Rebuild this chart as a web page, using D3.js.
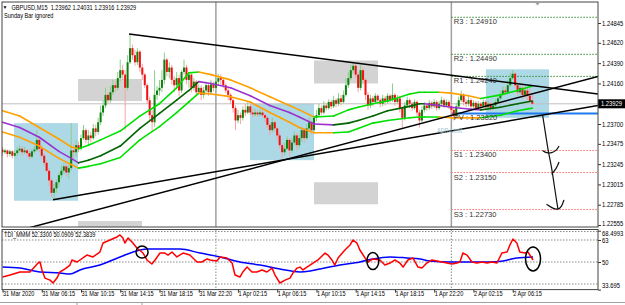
<!DOCTYPE html>
<html>
<head>
<meta charset="utf-8">
<script src="https://cdn.jsdelivr.net/npm/d3@7"></script>
<style>
    body { margin: 0; background: #fff; }
    svg { display: block; font-family: "Liberation Sans", Arial, sans-serif; }
</style>
</head>
<body>
<div id="chart"></div>
<script>
// GBPUSD M15, one entry per bar from 31 Mar 02:15 to 2 Apr 08:15
const firstOpen = 1.2341;
const closes = [
    1.2338,1.2340,1.2336,1.2339,1.2334,1.2337,1.2340,1.2342,1.2338,1.2340,
    1.2337,1.2333,1.2339,1.2341,1.2352,1.2342,1.2334,1.2326,1.2317,1.2306,
    1.2292,1.2297,1.2304,1.2312,1.2317,1.2322,1.2315,1.2320,1.2340,1.2338,
    1.2346,1.2342,1.2354,1.2363,1.2352,1.2357,1.2354,1.2365,1.2361,1.2372,
    1.2383,1.2391,1.2403,1.2397,1.2406,1.2414,1.2411,1.2422,1.2431,1.2426,
    1.2411,1.2440,1.2456,1.2448,1.2440,1.2452,1.2434,1.2426,1.2414,1.2397,
    1.2380,1.2372,1.2403,1.2408,1.2411,1.2420,1.2443,1.2429,1.2434,1.2420,
    1.2414,1.2422,1.2408,1.2429,1.2434,1.2420,1.2426,1.2411,1.2418,1.2406,
    1.2411,1.2403,1.2408,1.2414,1.2406,1.2415,1.2411,1.2418,1.2422,1.2420,
    1.2414,1.2408,1.2403,1.2397,1.2388,1.2374,1.2380,1.2377,1.2386,1.2383,
    1.2390,1.2383,1.2381,1.2383,1.2381,1.2383,1.2380,1.2377,1.2369,1.2363,
    1.2372,1.2365,1.2357,1.2346,1.2338,1.2342,1.2352,1.2340,1.2349,1.2357,
    1.2346,1.2354,1.2363,1.2354,1.2365,1.2372,1.2363,1.2377,1.2380,1.2388,
    1.2383,1.2391,1.2388,1.2395,1.2390,1.2397,1.2393,1.2399,1.2395,1.2403,
    1.2414,1.2422,1.2431,1.2436,1.2426,1.2411,1.2431,1.2420,1.2403,1.2391,
    1.2399,1.2395,1.2402,1.2397,1.2393,1.2399,1.2395,1.2402,1.2397,1.2403,
    1.2395,1.2399,1.2388,1.2377,1.2391,1.2397,1.2393,1.2388,1.2395,1.2383,
    1.2374,1.2386,1.2391,1.2388,1.2394,1.2390,1.2395,1.2388,1.2393,1.2397,
    1.2391,1.2395,1.2390,1.2386,1.2379,1.2390,1.2397,1.2403,1.2395,1.2393,
    1.2397,1.2390,1.2394,1.2388,1.2393,1.2390,1.2395,1.2389,1.2393,1.2388,
    1.2391,1.2395,1.2399,1.2404,1.2408,1.2406,1.2414,1.2422,1.2427,1.2414,
    1.2406,1.2411,1.2403,1.2408,1.2402,1.23962,1.23929
];
const highs = [
    1.2344,1.2342,1.2341,1.2341,1.2340,1.2340,1.2344,1.2346,1.2345,1.2344,
    1.2342,1.2340,1.2342,1.2345,1.2363,1.2356,1.2346,1.2337,1.2329,1.2320,
    1.2308,1.2302,1.2307,1.2315,1.2323,1.2326,1.2325,1.2324,1.2371,1.2347,
    1.2352,1.2350,1.2358,1.2369,1.2365,1.2363,1.2361,1.2370,1.2369,1.2377,
    1.2391,1.2397,1.2411,1.2406,1.2413,1.2420,1.2419,1.2429,1.2443,1.2437,
    1.2431,1.2448,1.2472,1.2460,1.2454,1.2456,1.2454,1.2438,1.2428,1.2416,
    1.2401,1.2386,1.2431,1.2413,1.2420,1.2431,1.2451,1.2445,1.2440,1.2437,
    1.2424,1.2429,1.2426,1.2431,1.2443,1.2437,1.2429,1.2427,1.2422,1.2420,
    1.2415,1.2414,1.2412,1.2418,1.2416,1.2420,1.2418,1.2422,1.2427,1.2426,
    1.2423,1.2416,1.2411,1.2405,1.2399,1.2391,1.2386,1.2383,1.2390,1.2393,
    1.2395,1.2393,1.2387,1.2387,1.2386,1.2387,1.2386,1.2382,1.2379,1.2372,
    1.2377,1.2374,1.2367,1.2360,1.2348,1.2349,1.2356,1.2354,1.2354,1.2362,
    1.2360,1.2358,1.2367,1.2365,1.2370,1.2378,1.2374,1.2380,1.2386,1.2393,
    1.2391,1.2396,1.2394,1.2398,1.2397,1.2402,1.2399,1.2405,1.2403,1.2408,
    1.2422,1.2429,1.2437,1.2440,1.2438,1.2429,1.2437,1.2434,1.2422,1.2406,
    1.2403,1.2402,1.2405,1.2404,1.2399,1.2403,1.2402,1.2405,1.2404,1.2416,
    1.2405,1.2403,1.2402,1.2390,1.2395,1.2401,1.2399,1.2395,1.2398,1.2397,
    1.2386,1.2390,1.2395,1.2394,1.2397,1.2396,1.2398,1.2397,1.2396,1.2401,
    1.2399,1.2398,1.2397,1.2393,1.2388,1.2394,1.2401,1.2408,1.2405,1.2398,
    1.2401,1.2399,1.2397,1.2396,1.2396,1.2395,1.2398,1.2397,1.2396,1.2395,
    1.2395,1.2398,1.2403,1.2408,1.2413,1.2412,1.2420,1.2428,1.2431,1.2429,
    1.2418,1.2415,1.2414,1.2412,1.2411,1.2410,1.24031
];
const lows = [
    1.2334,1.2336,1.2332,1.2333,1.2331,1.2332,1.2334,1.2338,1.2334,1.2336,
    1.2333,1.2329,1.2331,1.2337,1.2339,1.2338,1.2331,1.2322,1.2314,1.2300,
    1.2287,1.2284,1.2292,1.2299,1.2308,1.2314,1.2311,1.2308,1.2317,1.2331,
    1.2333,1.2338,1.2340,1.2352,1.2348,1.2346,1.2349,1.2352,1.2356,1.2358,
    1.2369,1.2379,1.2388,1.2393,1.2394,1.2403,1.2406,1.2408,1.2418,1.2420,
    1.2363,1.2408,1.2438,1.2443,1.2436,1.2437,1.2429,1.2420,1.2411,1.2393,
    1.2374,1.2361,1.2367,1.2397,1.2402,1.2406,1.2415,1.2424,1.2422,1.2415,
    1.2406,1.2411,1.2401,1.2405,1.2426,1.2415,1.2411,1.2406,1.2408,1.2401,
    1.2403,1.2397,1.2399,1.2404,1.2402,1.2404,1.2407,1.2408,1.2414,1.2415,
    1.2411,1.2405,1.2397,1.2393,1.2383,1.2363,1.2371,1.2370,1.2374,1.2379,
    1.2381,1.2380,1.2378,1.2379,1.2378,1.2379,1.2377,1.2372,1.2365,1.2357,
    1.2360,1.2361,1.2352,1.2342,1.2331,1.2334,1.2340,1.2333,1.2337,1.2346,
    1.2340,1.2342,1.2350,1.2349,1.2352,1.2362,1.2358,1.2361,1.2373,1.2378,
    1.2380,1.2381,1.2385,1.2386,1.2387,1.2388,1.2389,1.2390,1.2391,1.2393,
    1.2401,1.2411,1.2420,1.2427,1.2422,1.2406,1.2408,1.2415,1.2397,1.2386,
    1.2388,1.2390,1.2393,1.2394,1.2389,1.2390,1.2391,1.2393,1.2394,1.2395,
    1.2391,1.2393,1.2383,1.2366,1.2374,1.2389,1.2388,1.2385,1.2386,1.2379,
    1.2366,1.2372,1.2383,1.2385,1.2386,1.2387,1.2388,1.2385,1.2386,1.2390,
    1.2388,1.2389,1.2387,1.2381,1.2374,1.2377,1.2388,1.2395,1.2391,1.2389,
    1.2390,1.2387,1.2388,1.2385,1.2386,1.2387,1.2388,1.2386,1.2387,1.2385,
    1.2386,1.2389,1.2393,1.2397,1.2402,1.2403,1.2404,1.2412,1.2420,1.2411,
    1.2402,1.2403,1.2398,1.2401,1.2397,1.2396,1.23916
];

const symbolName = "GBPUSD,M15";
const ohlcLabel = [1.23962, 1.24031, 1.23916, 1.23929];
const currentPrice = 1.23929;

const timeTickBars = [0, 16, 32, 48, 64, 80, 96, 112, 128, 144, 160, 176, 192, 208];
const timeTickLabels = ["31 Mar 2020", "31 Mar 06:15", "31 Mar 10:15", "31 Mar 14:15", "31 Mar 18:15", "31 Mar 22:20",
    "1 Apr 02:15", "1 Apr 06:15", "1 Apr 10:15", "1 Apr 14:15", "1 Apr 18:15", "1 Apr 22:20", "2 Apr 02:15", "2 Apr 06:15"];
const daySeparatorBars = [87, 183];

const priceDomain = [1.22555, 1.24845];
const priceTicks = [1.24845, 1.24620, 1.24390, 1.24160, 1.23700, 1.23475, 1.23245, 1.23015, 1.22785, 1.22555];

// daily pivots, drawn from the start of 2 Apr
const pivotNames = ["R3", "R2", "R1", "PV", "S1", "S2", "S3"];
const pivotValues = [1.24910, 1.24490, 1.24240, 1.23820, 1.23400, 1.23150, 1.22730];
const pivotStartBar = 183;

// envelope lines, vertices
const maBars = [0, 7, 15, 23, 28, 31, 35, 40, 48, 56, 64, 71, 76, 80, 85, 93, 101, 109, 117, 121,
    127, 135, 141, 145, 151, 157, 166, 170, 172, 178, 183, 190, 195, 203, 210, 216];
const maUpper = [1.2385, 1.2379, 1.2366, 1.2353, 1.2344, 1.2342, 1.2346, 1.2352, 1.2362, 1.2379,
    1.2393, 1.2411, 1.2428, 1.2429, 1.2426, 1.2420, 1.2411, 1.2401, 1.2391, 1.2386,
    1.2378, 1.2379, 1.2386, 1.2389, 1.2393, 1.2396, 1.2404, 1.2406, 1.2406, 1.2406,
    1.2405, 1.2402, 1.2399, 1.2403, 1.2408, 1.2413];
const maMiddle = [1.2372, 1.2366, 1.2355, 1.2339, 1.2331, 1.2326, 1.2329, 1.2334, 1.2345, 1.2365,
    1.2382, 1.2397, 1.2408, 1.2418, 1.2416, 1.2411, 1.2402, 1.2391, 1.2383, 1.2378,
    1.2370, 1.2369, 1.2371, 1.2374, 1.2379, 1.2385, 1.2390, 1.2393, 1.2393, 1.2391,
    1.2389, 1.2387, 1.2386, 1.2389, 1.2393, 1.2396];
const maLower = [1.2361, 1.2355, 1.2345, 1.2331, 1.2324, 1.2320, 1.2322, 1.2325, 1.2332, 1.2352,
    1.2367, 1.2383, 1.2395, 1.2405, 1.2404, 1.2401, 1.2395, 1.2383, 1.2372, 1.2366,
    1.2360, 1.2360, 1.2361, 1.2365, 1.2371, 1.2374, 1.2377, 1.2378, 1.2378, 1.2378,
    1.2377, 1.2377, 1.2377, 1.2380, 1.2385, 1.2388];

// rectangles drawn on the chart
const zoneKinds = ["gray", "gray", "gray", "gray", "blue", "blue", "blue"];
const zoneStartBars = [30.8, 127, 127, 30.8, 4.7, 100.9, 197.1];
const zoneEndBars = [56.9, 153.1, 153.1, 56.9, 30.8, 127, 222.8];
const zoneHighs = [1.2421, 1.2442, 1.2304, 1.2260, 1.2371, 1.2393, 1.2432];
const zoneLows = [1.2396, 1.2416, 1.2279, 1.2238, 1.2283, 1.2329, 1.2377];

// trend lines
const trendStartBars = [51.6, 20.6, 10];
const trendStartPrices = [1.2472, 1.2284, 1.22517];
const trendEndBars = [242.8, 242.8, 242.8];
const trendEndPrices = [1.2404, 1.2391, 1.2424];

// hand drawn arrow towards S3
const arrowMainBars = [220.2, 221.2, 222.4, 223.9, 224.8, 225.9, 226.5];
const arrowMainPrices = [1.2380, 1.2363, 1.2340, 1.2321, 1.2303, 1.2283, 1.2273];
const arrowHead1Bars = [220.2, 221.8, 223.9, 225.9, 226.9];
const arrowHead1Prices = [1.2340, 1.2337, 1.2337, 1.2340, 1.2345];
const arrowHead2Bars = [223.9, 225.9, 226.9];
const arrowHead2Prices = [1.2313, 1.2320, 1.2327];
const arrowHead3Bars = [221.8, 224.5, 226.5, 228, 228.9];
const arrowHead3Prices = [1.2279, 1.2274, 1.2273, 1.2276, 1.2284];

const adrLabelBar = 177.1;
const adrLabelPrice = 1.2360;

// TDI sub window
const tdiName = "TDI_MMM";
const tdiHeaderValues = [52.3300, 50.0909, 52.3839];
const tdiDomain = [33.695, 68.4993];
const tdiTicks = [68.4993, 63, 50, 33.695];
const tdiTickLabels = ["68.4993", "63", "50", "33.695"];
const tdiLevels = [68, 63, 50, 37];
const tdiRedBars = [0, 3.1, 7.1, 11.2, 14.5, 15.3, 16.1, 17.3, 19.4, 20.6, 22.2, 23.4, 25.5, 27.5, 28.3, 30.4,
    34.4, 36.9, 39.7, 41, 43.8, 46.7, 47.9, 49.1, 49.9, 51.2, 52.8, 54.8, 57.3, 58.9, 60.9, 62.2,
    64.2, 66.2, 67.5, 69.1, 71.1, 73.6, 76.4, 79.3, 81.3, 83.4, 84.6, 87.4, 88.7, 91.5, 93.6, 94.8,
    96.8, 98, 99.7, 101.7, 103.7, 105.8, 107.8, 109.9, 111.1, 113.1, 115.2, 117.2, 118.4, 120.1,
    121.3, 122.5, 124.1, 126.6, 128.6, 131.5, 132.7, 134.3, 135.5, 136.8, 139.6, 141.7, 142.9,
    144.5, 145.7, 147.8, 149, 151, 153.9, 155.9, 158, 160, 162, 163.3, 165.3, 167.3, 169.4, 171,
    173, 175.1, 177.1, 179.2, 181.2, 183.2, 185.3, 186.5, 187.7, 189.4, 191.4, 193.4, 195.5,
    197.5, 199.5, 201.6, 203.6, 205.7, 206.9, 208.1, 209.7, 210.9, 213, 214.2, 216.3];
const tdiRedVals = [41.1, 42.3, 44.1, 44.1, 49.4, 50.0, 45.3, 40.5, 39.3, 37.6, 40.5, 44.1, 45.9, 48.2, 51.2, 50.0,
    54.1, 53.0, 55.9, 61.2, 63.0, 64.8, 66.0, 64.2, 61.2, 64.2, 61.8, 58.3, 55.3, 51.2, 48.8, 51.2,
    55.3, 55.3, 54.1, 55.9, 53.0, 55.3, 54.1, 50.0, 50.0, 51.8, 51.2, 50.6, 53.0, 52.4, 49.4, 42.3,
    41.1, 44.1, 47.0, 44.1, 44.1, 45.3, 44.1, 46.4, 42.3, 37.6, 39.3, 40.5, 43.5, 46.4,
    47.0, 45.3, 47.0, 49.4, 51.2, 55.3, 54.1, 51.2, 48.2, 52.4, 57.1, 60.1, 63.0,
    61.2, 57.1, 52.4, 50.0, 51.8, 51.2, 48.2, 49.4, 51.2, 49.4, 47.0, 51.2, 52.4, 47.0, 46.4,
    49.4, 51.2, 50.6, 50.0, 49.4, 48.8, 49.4, 50.0, 55.3, 54.1, 50.0, 49.4, 50.0,
    49.4, 50.0, 49.4, 55.3, 55.9, 60.1, 63.6, 61.2, 55.9, 55.3, 55.9, 51.2];
const tdiBlueBars = [0, 7.1, 15.3, 23.4, 27.5, 31.6, 39.7, 47.9, 56.1, 58.9, 64.2, 72.4, 80.5, 88.7, 96.8, 105,
    113.1, 121.3, 125.4, 129.4, 137.6, 145.7, 151, 158, 164.9, 170.2, 174.3, 182.4, 190.6, 198.7, 204, 209.7, 216.3];
const tdiBlueVals = [47.0, 46.4, 44.1, 43.5, 42.9, 45.3, 48.2, 53.0, 57.1, 57.7, 57.7, 57.7, 55.3, 53.0, 50.0, 48.2,
    45.9, 44.1, 44.7, 45.9, 48.2, 50.0, 51.8, 53.0, 52.4, 51.8, 50.6, 50.0, 50.0, 50.0, 50.6, 52.4, 53.0];
const circleBars = [56.9, 151, 216.3];
const circleVals = [55.9, 50.6, 51.8];


function Mt4Chart(parent) {
    let vis = this;

    vis.parent = d3.select(parent);
    vis.opens = closes.map((c, i) => i === 0 ? firstOpen : closes[i - 1]);

    vis.initVis();
}

Mt4Chart.prototype.initVis = function() {
    let vis = this;

    vis.frame = {"left": 2, "right": 598, "top": 2, "bottom": 227};
    vis.sub = {"top": 229.5, "bottom": 289.6};

    vis.svg = vis.parent.append("svg")
        .attr("width", 625)
        .attr("height", 305);

    vis.x = d3.scaleLinear()
        .domain([0, closes.length - 1])
        .range([2.5, 532.3]);
    vis.y = d3.scaleLinear()
        .domain(priceDomain)
        .range([225, 23]);
    vis.yTdi = d3.scaleLinear()
        .domain(tdiDomain)
        .range([289.6, 230.7]);

    let defs = vis.svg.append("defs");
    defs.append("clipPath").attr("id", "clip-main").append("rect")
        .attr("x", vis.frame.left)
        .attr("y", vis.frame.top)
        .attr("width", vis.frame.right - vis.frame.left)
        .attr("height", vis.frame.bottom - vis.frame.top);
    defs.append("clipPath").attr("id", "clip-sub").append("rect")
        .attr("x", vis.frame.left)
        .attr("y", vis.sub.top)
        .attr("width", vis.frame.right - vis.frame.left)
        .attr("height", vis.sub.bottom - vis.sub.top);

    vis.mainG = vis.svg.append("g").attr("clip-path", "url(#clip-main)");
    vis.subG = vis.svg.append("g").attr("clip-path", "url(#clip-sub)");

    vis.drawMain();
    vis.drawIndicator();
    vis.drawAxes();
    vis.drawFrame();
};

// text squeezed sideways like the screenshot
Mt4Chart.prototype.label = function(g, x, y, txt, size, sx) {
    return g.append("text")
        .attr("transform", "translate(" + x + "," + y + ") scale(" + sx + ",1)")
        .style("font-size", size + "px")
        .text(txt);
};

Mt4Chart.prototype.drawMain = function() {
    let vis = this;
    let g = vis.mainG;

    g.selectAll("rect.zone")
        .data(zoneKinds)
        .enter()
        .append("rect")
        .attr("class", "zone")
        .attr("x", (d, i) => vis.x(zoneStartBars[i]))
        .attr("width", (d, i) => vis.x(zoneEndBars[i]) - vis.x(zoneStartBars[i]))
        .attr("y", (d, i) => vis.y(zoneHighs[i]))
        .attr("height", (d, i) => vis.y(zoneLows[i]) - vis.y(zoneHighs[i]))
        .style("fill", d => d === "gray" ? "#d3d3d3" : "#add8e6");

    g.append("line")
        .attr("x1", vis.frame.left)
        .attr("x2", vis.frame.right)
        .attr("y1", vis.y(currentPrice))
        .attr("y2", vis.y(currentPrice))
        .style("stroke", "#c0c0c0");

    g.selectAll("line.day")
        .data(daySeparatorBars)
        .enter()
        .append("line")
        .attr("class", "day")
        .attr("x1", d => vis.x(d))
        .attr("x2", d => vis.x(d))
        .attr("y1", vis.frame.top)
        .attr("y2", vis.frame.bottom)
        .style("stroke", "#a0a0a0")
        .style("stroke-width", 1.5);

    // pivot levels
    g.selectAll("line.pivot")
        .data(pivotNames)
        .enter()
        .append("line")
        .attr("class", "pivot")
        .attr("x1", vis.x(pivotStartBar))
        .attr("x2", vis.frame.right)
        .attr("y1", (d, i) => vis.y(pivotValues[i]))
        .attr("y2", (d, i) => vis.y(pivotValues[i]))
        .style("stroke", d => d === "PV" ? "#1e7bf0" : (d[0] === "R" ? "#2e8b2e" : "#ff6b6b"))
        .style("stroke-width", d => d === "PV" ? 2 : 1)
        .style("stroke-dasharray", d => d === "PV" ? "none" : "1.5 1.5");

    // candles
    let bars = d3.range(closes.length);
    g.selectAll("line.wick")
        .data(bars)
        .enter()
        .append("line")
        .attr("class", "wick")
        .attr("x1", i => vis.x(i))
        .attr("x2", i => vis.x(i))
        .attr("y1", i => vis.y(highs[i]))
        .attr("y2", i => vis.y(lows[i]))
        .style("stroke", i => closes[i] >= vis.opens[i] ? "#8ccf8c" : "#f5a3a3")
        .style("stroke-width", 1);
    g.selectAll("rect.body")
        .data(bars)
        .enter()
        .append("rect")
        .attr("class", "body")
        .attr("x", i => vis.x(i) - 1)
        .attr("width", 2)
        .attr("y", i => vis.y(Math.max(closes[i], vis.opens[i])))
        .attr("height", i => Math.max(1, Math.abs(vis.y(closes[i]) - vis.y(vis.opens[i]))))
        .style("fill", i => closes[i] >= vis.opens[i] ? "#0b800b" : "#f01010");

    // envelope, coloured by direction
    let bands = [
        {"values": maUpper, "up": "#00e000", "down": "#ffa000"},
        {"values": maMiddle, "up": "#006400", "down": "#9a32cd"},
        {"values": maLower, "up": "#00e000", "down": "#ffa000"}
    ];
    bands.forEach(function(band) {
        let rising = false;
        let segs = d3.pairs(d3.range(maBars.length)).map(function(p) {
            let a = band.values[p[0]], b = band.values[p[1]];
            if (a !== b) {
                rising = b > a;
            }
            return {"a": p[0], "b": p[1], "rising": rising};
        });
        g.selectAll(null)
            .data(segs)
            .enter()
            .append("line")
            .attr("x1", s => vis.x(maBars[s.a]))
            .attr("x2", s => vis.x(maBars[s.b]))
            .attr("y1", s => vis.y(band.values[s.a]))
            .attr("y2", s => vis.y(band.values[s.b]))
            .style("stroke", s => s.rising ? band.up : band.down)
            .style("stroke-width", 1.6)
            .style("stroke-linecap", "round");
    });

    g.selectAll("line.trend")
        .data(trendStartBars)
        .enter()
        .append("line")
        .attr("class", "trend")
        .attr("x1", d => vis.x(d))
        .attr("y1", (d, i) => vis.y(trendStartPrices[i]))
        .attr("x2", (d, i) => vis.x(trendEndBars[i]))
        .attr("y2", (d, i) => vis.y(trendEndPrices[i]))
        .style("stroke", "#000")
        .style("stroke-width", 1.5);

    let strokes = [
        d3.zip(arrowMainBars, arrowMainPrices),
        d3.zip(arrowHead1Bars, arrowHead1Prices),
        d3.zip(arrowHead2Bars, arrowHead2Prices),
        d3.zip(arrowHead3Bars, arrowHead3Prices)
    ];
    let pen = d3.line()
        .x(d => vis.x(d[0]))
        .y(d => vis.y(d[1]))
        .curve(d3.curveBasis);
    g.selectAll("path.arrow")
        .data(strokes)
        .enter()
        .append("path")
        .attr("class", "arrow")
        .attr("d", pen)
        .style("fill", "none")
        .style("stroke", "#111")
        .style("stroke-width", 1.2);

    // pivot labels
    pivotNames.forEach(function(name, i) {
        vis.label(g, vis.x(pivotStartBar) + 2.5, vis.y(pivotValues[i]) + 7, name + " : " + d3.format(".5f")(pivotValues[i]), 7.5, 1)
            .style("fill", "#333");
    });

    vis.label(g, vis.x(adrLabelBar), vis.y(adrLabelPrice), "ADR-Limit", 6.5, 0.85)
        .style("fill", "#9fc3d3");
};

Mt4Chart.prototype.drawIndicator = function() {
    let vis = this;
    let g = vis.subG;

    g.selectAll("line.level")
        .data(tdiLevels)
        .enter()
        .append("line")
        .attr("class", "level")
        .attr("x1", vis.frame.left)
        .attr("x2", vis.frame.right)
        .attr("y1", d => vis.yTdi(d))
        .attr("y2", d => vis.yTdi(d))
        .style("stroke", "#8a8a8a")
        .style("stroke-dasharray", "1.5 1.5");

    g.selectAll("line.day")
        .data(daySeparatorBars)
        .enter()
        .append("line")
        .attr("class", "day")
        .attr("x1", d => vis.x(d))
        .attr("x2", d => vis.x(d))
        .attr("y1", vis.sub.top)
        .attr("y2", vis.sub.bottom)
        .style("stroke", "#8a8a8a")
        .style("stroke-dasharray", "1.5 1.5");

    let blueLine = d3.line()
        .x(d => vis.x(d[0]))
        .y(d => vis.yTdi(d[1]))
        .curve(d3.curveMonotoneX);
    let redLine = d3.line()
        .x(d => vis.x(d[0]))
        .y(d => vis.yTdi(d[1]));

    g.append("path")
        .attr("d", blueLine(d3.zip(tdiBlueBars, tdiBlueVals)))
        .style("fill", "none")
        .style("stroke", "#0000ff")
        .style("stroke-width", 1.5);
    g.append("path")
        .attr("d", redLine(d3.zip(tdiRedBars, tdiRedVals)))
        .style("fill", "none")
        .style("stroke", "#ff0000")
        .style("stroke-width", 1.5)
        .style("stroke-linejoin", "round");

    let rx = [6, 6, 7.5];
    let ry = [6, 8.5, 12];
    g.selectAll("ellipse")
        .data(circleBars)
        .enter()
        .append("ellipse")
        .attr("cx", d => vis.x(d))
        .attr("cy", (d, i) => vis.yTdi(circleVals[i]))
        .attr("rx", (d, i) => rx[i])
        .attr("ry", (d, i) => ry[i])
        .style("fill", "none")
        .style("stroke", "#000")
        .style("stroke-width", 1.5);
};

Mt4Chart.prototype.drawAxes = function() {
    let vis = this;

    let priceAxis = vis.svg.append("g")
        .attr("class", "axis")
        .attr("transform", "translate(" + vis.frame.right + ",0)")
        .call(d3.axisRight(vis.y).tickValues(priceTicks).tickFormat(d3.format(".5f")).tickSize(3));
    let tdiAxis = vis.svg.append("g")
        .attr("class", "axis")
        .attr("transform", "translate(" + vis.frame.right + ",0)")
        .call(d3.axisRight(vis.yTdi).tickValues(tdiTicks).tickFormat((d, i) => tdiTickLabels[i]).tickSize(3));

    [priceAxis, tdiAxis].forEach(function(ax) {
        ax.select(".domain").remove();
        ax.selectAll("line").style("stroke", "#333");
        ax.selectAll("text")
            .attr("x", 4.5)
            .attr("transform", "scale(0.9,1)")
            .style("font-size", "6.5px")
            .style("fill", "#000");
    });
    // lowest price label and top TDI label sit on each other, pull them apart a little
    priceAxis.selectAll("text")
        .attr("dy", d => d === priceDomain[0] ? "0.05em" : "0.32em");
    tdiAxis.selectAll("text")
        .attr("dy", d => d === tdiDomain[0] ? "-0.3em" : (d === tdiDomain[1] ? "0.75em" : "0.32em"));

    // bid label
    let yb = vis.y(currentPrice);
    vis.svg.append("rect")
        .attr("x", vis.frame.right)
        .attr("y", yb - 4.5)
        .attr("width", 27)
        .attr("height", 9)
        .style("fill", "#000");
    vis.label(vis.svg, vis.frame.right + 3, yb + 2.5, d3.format(".5f")(currentPrice), 6.5, 0.9)
        .style("fill", "#fff");

    let timeAxis = vis.svg.append("g")
        .attr("class", "axis")
        .attr("transform", "translate(0," + vis.sub.bottom + ")")
        .call(d3.axisBottom(vis.x).tickValues(timeTickBars).tickFormat((d, i) => timeTickLabels[i]).tickSize(3));
    timeAxis.select(".domain").remove();
    timeAxis.selectAll("line").style("stroke", "#333");
    timeAxis.selectAll("text")
        .attr("y", 1.5)
        .attr("text-anchor", "start")
        .attr("transform", "scale(0.8,1)")
        .style("font-size", "7px")
        .style("fill", "#000");

    // headers
    vis.label(vis.svg, 2.5, 8.5, "\u25BC", 5, 1);
    vis.label(vis.svg, 11.5, 9.5, symbolName + "  " + ohlcLabel.map(d3.format(".5f")).join(" "), 7, 0.8)
        .style("white-space", "pre");
    vis.label(vis.svg, 4, 17.5, "Sunday Bar ignored", 7, 0.8);
    vis.label(vis.svg, 4, 236.5, tdiName + " " + tdiHeaderValues.map(d3.format(".4f")).join(" "), 7, 0.8);
};

Mt4Chart.prototype.drawFrame = function() {
    let vis = this;

    vis.svg.append("rect")
        .attr("x", vis.frame.left)
        .attr("y", vis.frame.top)
        .attr("width", vis.frame.right - vis.frame.left)
        .attr("height", vis.frame.bottom - vis.frame.top)
        .style("fill", "none")
        .style("stroke", "#444");
    vis.svg.append("rect")
        .attr("x", vis.frame.left)
        .attr("y", vis.sub.top)
        .attr("width", vis.frame.right - vis.frame.left)
        .attr("height", vis.sub.bottom - vis.sub.top)
        .style("fill", "none")
        .style("stroke", "#444");

    // chart shift marker and the tab strip underneath
    vis.svg.append("path")
        .attr("d", "M535,2.5L540,2.5L537.5,5.5Z")
        .style("fill", "#a0a0a0");
    vis.svg.append("line")
        .attr("x1", 0).attr("x2", 625)
        .attr("y1", 302.5).attr("y2", 302.5)
        .style("stroke", "#a0a0a0");
    vis.svg.append("rect")
        .attr("x", 77).attr("y", 302.5)
        .attr("width", 65).attr("height", 4)
        .style("fill", "#fff")
        .style("stroke", "#a0a0a0");
};

new Mt4Chart("#chart");
</script>
</body>
</html>
